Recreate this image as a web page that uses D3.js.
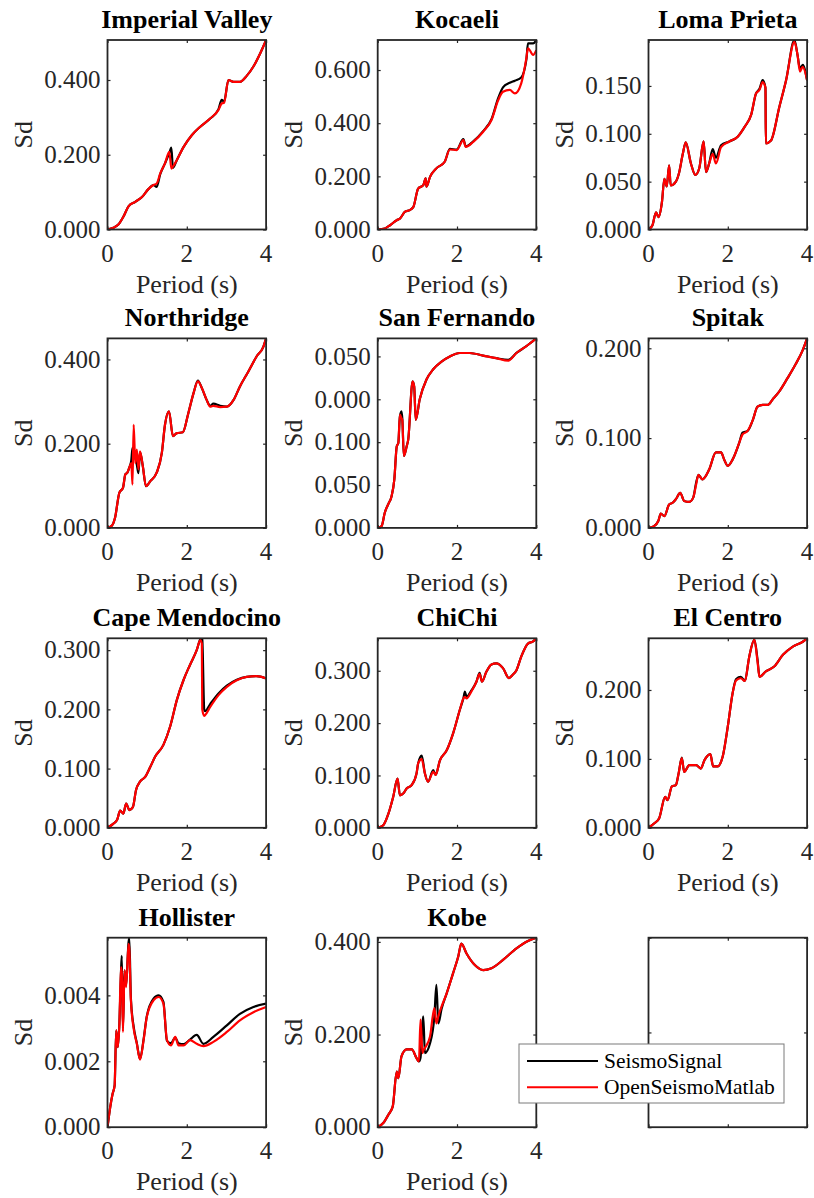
<!DOCTYPE html>
<html lang="en">
<head>
<meta charset="utf-8">
<script src="https://d3js.org/d3.v7.min.js"></script>
<style>
body { margin: 0; background: #fff; }
svg text { font-family: "Liberation Serif", "Times New Roman", serif; fill: #262626; }
</style>
</head>
<body>
<div id="chart"></div>
<script>
// ---- data (period in s, Sd) ----
var names = ["Imperial Valley", "Kocaeli", "Loma Prieta", "Northridge", "San Fernando", "Spitak",
             "Cape Mendocino", "ChiChi", "El Centro", "Hollister", "Kobe"];
var seriesNames = ["SeismoSignal", "OpenSeismoMatlab"];
var xTicks = [0, 2, 4];

var periodImperial = [0, 0.15, 0.28, 0.40, 0.53, 0.70, 0.87, 1.03, 1.16, 1.24, 1.33, 1.45, 1.56, 1.61, 1.65, 1.75, 1.92, 2.13, 2.34, 2.59, 2.80, 2.88, 2.94, 3.05, 3.18, 3.34, 3.51, 3.68, 3.85, 4.0];
var ssImperial  = [0, 0.0045, 0.014, 0.034, 0.062, 0.074, 0.087, 0.108, 0.119, 0.114, 0.148, 0.177, 0.205, 0.219, 0.165, 0.186, 0.221, 0.253, 0.275, 0.297, 0.322, 0.347, 0.342, 0.400, 0.395, 0.395, 0.411, 0.436, 0.471, 0.507];
var osmImperial = [0, 0.0045, 0.014, 0.034, 0.062, 0.074, 0.087, 0.108, 0.119, 0.123, 0.150, 0.177, 0.208, 0.163, 0.168, 0.186, 0.221, 0.253, 0.275, 0.297, 0.320, 0.337, 0.339, 0.400, 0.395, 0.395, 0.411, 0.436, 0.471, 0.507];
var ticksImperial = [0, 0.2, 0.4];

var periodKocaeli = [0, 0.18, 0.31, 0.48, 0.56, 0.69, 0.81, 0.90, 1.02, 1.15, 1.21, 1.23, 1.32, 1.48, 1.69, 1.82, 1.99, 2.16, 2.22, 2.41, 2.66, 2.87, 3.04, 3.16, 3.33, 3.46, 3.62, 3.75, 3.79, 3.92, 4.0];
var ssKocaeli  = [0, 0.004, 0.016, 0.035, 0.041, 0.067, 0.073, 0.085, 0.154, 0.167, 0.192, 0.161, 0.198, 0.230, 0.255, 0.303, 0.301, 0.340, 0.313, 0.332, 0.370, 0.415, 0.495, 0.535, 0.552, 0.560, 0.572, 0.640, 0.700, 0.700, 0.713];
var osmKocaeli = [0, 0.004, 0.016, 0.035, 0.041, 0.067, 0.073, 0.085, 0.154, 0.167, 0.192, 0.161, 0.198, 0.230, 0.255, 0.301, 0.299, 0.336, 0.311, 0.330, 0.368, 0.412, 0.487, 0.518, 0.525, 0.512, 0.550, 0.645, 0.682, 0.657, 0.675];
var ticksKocaeli = [0, 0.2, 0.4, 0.6];

var periodLoma = [0, 0.10, 0.19, 0.25, 0.34, 0.40, 0.46, 0.52, 0.56, 0.69, 0.77, 0.86, 0.94, 1.07, 1.18, 1.28, 1.39, 1.45, 1.53, 1.62, 1.70, 1.83, 2.04, 2.25, 2.42, 2.59, 2.71, 2.80, 2.88, 2.95, 2.96, 3.09, 3.30, 3.47, 3.68, 3.76, 3.82, 3.89, 4.0];
var ssLoma  = [0, 0.0045, 0.018, 0.013, 0.029, 0.053, 0.045, 0.067, 0.046, 0.050, 0.059, 0.078, 0.091, 0.069, 0.057, 0.064, 0.092, 0.060, 0.069, 0.084, 0.075, 0.088, 0.092, 0.097, 0.107, 0.120, 0.142, 0.147, 0.156, 0.148, 0.090, 0.093, 0.128, 0.156, 0.198, 0.182, 0.168, 0.172, 0.156];
var osmLoma = [0, 0.0045, 0.018, 0.013, 0.029, 0.053, 0.045, 0.067, 0.046, 0.050, 0.059, 0.078, 0.091, 0.069, 0.057, 0.064, 0.092, 0.060, 0.069, 0.079, 0.069, 0.086, 0.092, 0.097, 0.107, 0.120, 0.142, 0.146, 0.154, 0.148, 0.090, 0.093, 0.128, 0.156, 0.196, 0.182, 0.165, 0.170, 0.156];
var ticksLoma = [0, 0.05, 0.1, 0.15];

var periodNorthridge = [0, 0.11, 0.19, 0.30, 0.39, 0.45, 0.50, 0.55, 0.60, 0.63, 0.66, 0.70, 0.74, 0.78, 0.82, 0.89, 0.97, 1.08, 1.24, 1.37, 1.45, 1.55, 1.65, 1.75, 1.90, 2.04, 2.17, 2.28, 2.38, 2.50, 2.59, 2.67, 2.84, 3.01, 3.18, 3.34, 3.55, 3.76, 3.93, 4.0];
var ssNorthridge  = [0, 0.005, 0.024, 0.084, 0.095, 0.127, 0.131, 0.143, 0.160, 0.190, 0.175, 0.170, 0.150, 0.130, 0.180, 0.147, 0.099, 0.111, 0.131, 0.178, 0.245, 0.277, 0.218, 0.225, 0.227, 0.273, 0.320, 0.350, 0.332, 0.304, 0.290, 0.295, 0.290, 0.288, 0.304, 0.336, 0.371, 0.407, 0.430, 0.450];
var osmNorthridge = [0, 0.005, 0.024, 0.084, 0.095, 0.127, 0.131, 0.143, 0.154, 0.103, 0.245, 0.154, 0.186, 0.139, 0.182, 0.147, 0.099, 0.111, 0.131, 0.178, 0.245, 0.277, 0.218, 0.225, 0.227, 0.273, 0.320, 0.348, 0.332, 0.304, 0.288, 0.290, 0.287, 0.288, 0.304, 0.336, 0.371, 0.407, 0.430, 0.450];
var ticksNorthridge = [0, 0.2, 0.4];

var periodSanFernando = [0, 0.10, 0.18, 0.27, 0.35, 0.42, 0.48, 0.52, 0.56, 0.60, 0.62, 0.66, 0.73, 0.77, 0.88, 0.92, 0.96, 1.06, 1.23, 1.40, 1.61, 1.82, 2.07, 2.32, 2.66, 2.99, 3.29, 3.50, 3.75, 4.0];
var ssSanFernando  = [0, 0.0023, 0.018, 0.028, 0.037, 0.057, 0.095, 0.099, 0.130, 0.136, 0.128, 0.084, 0.095, 0.103, 0.171, 0.165, 0.126, 0.150, 0.173, 0.185, 0.194, 0.200, 0.204, 0.204, 0.201, 0.198, 0.196, 0.204, 0.212, 0.221];
var osmSanFernando = [0, 0.0023, 0.018, 0.028, 0.037, 0.057, 0.095, 0.099, 0.132, 0.128, 0.126, 0.084, 0.095, 0.103, 0.171, 0.165, 0.126, 0.150, 0.173, 0.185, 0.194, 0.200, 0.204, 0.204, 0.201, 0.198, 0.195, 0.204, 0.212, 0.221];
var ticksSanFernando = [0, 0.05, 0.1, 0.15, 0.2];
var labelsSanFernando = ["0.000", "0.050", "0.100", "0.000", "0.050"];

var periodSpitak = [0, 0.14, 0.25, 0.31, 0.40, 0.52, 0.61, 0.69, 0.80, 0.90, 1.03, 1.13, 1.20, 1.26, 1.36, 1.53, 1.70, 1.83, 1.91, 2.00, 2.12, 2.29, 2.37, 2.50, 2.63, 2.75, 2.88, 3.01, 3.13, 3.30, 3.51, 3.72, 3.89, 4.0];
var ssSpitak  = [0, 0.002, 0.008, 0.016, 0.013, 0.026, 0.028, 0.032, 0.039, 0.030, 0.029, 0.034, 0.050, 0.059, 0.054, 0.065, 0.084, 0.084, 0.076, 0.069, 0.076, 0.095, 0.106, 0.108, 0.120, 0.135, 0.137, 0.137, 0.143, 0.152, 0.167, 0.183, 0.198, 0.211];
var osmSpitak = [0, 0.002, 0.008, 0.016, 0.013, 0.026, 0.028, 0.032, 0.039, 0.030, 0.029, 0.034, 0.048, 0.059, 0.054, 0.065, 0.084, 0.084, 0.076, 0.069, 0.076, 0.095, 0.104, 0.108, 0.120, 0.135, 0.137, 0.137, 0.143, 0.152, 0.167, 0.183, 0.198, 0.211];
var ticksSpitak = [0, 0.1, 0.2];

var periodCape = [0, 0.15, 0.24, 0.32, 0.40, 0.47, 0.55, 0.64, 0.72, 0.82, 0.95, 1.08, 1.20, 1.41, 1.58, 1.75, 1.92, 2.08, 2.25, 2.34, 2.38, 2.39, 2.44, 2.46, 2.59, 2.80, 3.01, 3.26, 3.51, 3.76, 4.0];
var ssCape  = [0, 0.007, 0.013, 0.029, 0.024, 0.041, 0.030, 0.035, 0.064, 0.078, 0.086, 0.103, 0.120, 0.140, 0.171, 0.216, 0.250, 0.275, 0.300, 0.318, 0.320, 0.318, 0.199, 0.197, 0.209, 0.227, 0.240, 0.250, 0.255, 0.256, 0.252];
var osmCape = [0, 0.007, 0.013, 0.029, 0.024, 0.041, 0.030, 0.035, 0.064, 0.078, 0.086, 0.103, 0.120, 0.140, 0.171, 0.216, 0.250, 0.275, 0.300, 0.317, 0.311, 0.200, 0.189, 0.190, 0.204, 0.224, 0.238, 0.249, 0.255, 0.256, 0.252];
var ticksCape = [0, 0.1, 0.2, 0.3];

var periodChiChi = [0, 0.14, 0.27, 0.39, 0.50, 0.56, 0.65, 0.73, 0.86, 0.98, 1.02, 1.11, 1.19, 1.27, 1.40, 1.46, 1.57, 1.74, 1.90, 2.07, 2.16, 2.20, 2.24, 2.36, 2.49, 2.57, 2.63, 2.74, 2.87, 2.99, 3.16, 3.31, 3.40, 3.50, 3.62, 3.79, 3.92, 4.0];
var ssChiChi  = [0, 0.005, 0.027, 0.059, 0.094, 0.062, 0.066, 0.075, 0.082, 0.104, 0.123, 0.138, 0.104, 0.088, 0.110, 0.101, 0.129, 0.148, 0.180, 0.225, 0.247, 0.260, 0.250, 0.262, 0.279, 0.296, 0.279, 0.298, 0.312, 0.314, 0.305, 0.286, 0.292, 0.301, 0.327, 0.352, 0.356, 0.362];
var osmChiChi = [0, 0.005, 0.027, 0.059, 0.094, 0.062, 0.066, 0.075, 0.082, 0.104, 0.123, 0.131, 0.104, 0.088, 0.107, 0.101, 0.129, 0.148, 0.180, 0.225, 0.247, 0.250, 0.247, 0.260, 0.279, 0.294, 0.279, 0.298, 0.312, 0.314, 0.305, 0.286, 0.292, 0.301, 0.327, 0.352, 0.356, 0.362];
var ticksChiChi = [0, 0.1, 0.2, 0.3];

var periodElCentro = [0, 0.14, 0.27, 0.42, 0.48, 0.59, 0.69, 0.76, 0.84, 0.90, 1.03, 1.20, 1.32, 1.41, 1.56, 1.63, 1.74, 1.87, 2.00, 2.12, 2.21, 2.33, 2.43, 2.54, 2.67, 2.75, 2.80, 2.96, 3.17, 3.39, 3.64, 3.89, 4.0];
var ssElCentro  = [0, 0.0063, 0.014, 0.045, 0.040, 0.060, 0.062, 0.079, 0.102, 0.081, 0.091, 0.091, 0.086, 0.098, 0.107, 0.089, 0.089, 0.103, 0.147, 0.195, 0.216, 0.219, 0.213, 0.248, 0.273, 0.244, 0.219, 0.227, 0.234, 0.251, 0.263, 0.270, 0.275];
var osmElCentro = [0, 0.0063, 0.014, 0.045, 0.040, 0.060, 0.062, 0.079, 0.101, 0.081, 0.091, 0.091, 0.086, 0.098, 0.107, 0.089, 0.089, 0.103, 0.147, 0.195, 0.214, 0.217, 0.213, 0.248, 0.273, 0.241, 0.219, 0.227, 0.234, 0.251, 0.263, 0.270, 0.275];
var ticksElCentro = [0, 0.1, 0.2];

var periodHollister = [0, 0.07, 0.13, 0.18, 0.22, 0.26, 0.30, 0.34, 0.36, 0.39, 0.43, 0.47, 0.53, 0.55, 0.59, 0.66, 0.74, 0.82, 0.91, 0.99, 1.16, 1.29, 1.41, 1.50, 1.60, 1.71, 1.79, 1.92, 2.08, 2.25, 2.42, 2.67, 3.01, 3.34, 3.68, 4.0];
var ssHollister  = [0, 0.00062, 0.00102, 0.00127, 0.00294, 0.00243, 0.00314, 0.00470, 0.00520, 0.00300, 0.00476, 0.00430, 0.00560, 0.00575, 0.00390, 0.00305, 0.00255, 0.00207, 0.00266, 0.00336, 0.00390, 0.00400, 0.00380, 0.00262, 0.00255, 0.00272, 0.00255, 0.00252, 0.00266, 0.00280, 0.00253, 0.00274, 0.00309, 0.00344, 0.00365, 0.00375];
var osmHollister = [0, 0.00062, 0.00102, 0.00127, 0.00294, 0.00243, 0.00314, 0.00486, 0.00470, 0.00289, 0.00476, 0.00425, 0.00556, 0.00540, 0.00385, 0.00299, 0.00253, 0.00205, 0.00264, 0.00334, 0.00385, 0.00395, 0.00375, 0.00264, 0.00248, 0.00274, 0.00248, 0.00248, 0.00264, 0.00253, 0.00246, 0.00259, 0.00289, 0.00324, 0.00349, 0.00365];
var ticksHollister = [0, 0.002, 0.004];

var periodKobe = [0, 0.14, 0.27, 0.38, 0.48, 0.52, 0.60, 0.73, 0.86, 0.98, 1.04, 1.08, 1.13, 1.15, 1.19, 1.32, 1.43, 1.48, 1.53, 1.61, 1.74, 1.90, 2.03, 2.11, 2.24, 2.45, 2.66, 2.87, 3.16, 3.50, 3.79, 4.0];
var ssKobe  = [0, 0.009, 0.027, 0.045, 0.120, 0.106, 0.153, 0.168, 0.168, 0.149, 0.142, 0.150, 0.225, 0.239, 0.160, 0.181, 0.240, 0.307, 0.224, 0.255, 0.289, 0.332, 0.368, 0.396, 0.375, 0.350, 0.339, 0.343, 0.361, 0.386, 0.402, 0.409];
var osmKobe = [0, 0.009, 0.027, 0.045, 0.120, 0.106, 0.153, 0.168, 0.168, 0.149, 0.142, 0.232, 0.160, 0.165, 0.171, 0.196, 0.257, 0.224, 0.240, 0.260, 0.289, 0.332, 0.368, 0.396, 0.375, 0.350, 0.339, 0.343, 0.361, 0.386, 0.402, 0.409];
var ticksKobe = [0, 0.2, 0.4];

// ---- layout ----
var width = 814, height = 1198;
var colX = [107.5, 377.7, 648.5];
var rowY = [40, 338.4, 638.3, 937.7];
var plotW = 158.6, plotH = 189.5;
var tickLen = 3;
var axisColor = "#262626";

var svg = d3.select("#chart")
            .append("svg")
            .attr("width", width)
            .attr("height", height);

var plots = [
    { t: periodImperial, ss: ssImperial, osm: osmImperial, ticks: ticksImperial },
    { t: periodKocaeli, ss: ssKocaeli, osm: osmKocaeli, ticks: ticksKocaeli },
    { t: periodLoma, ss: ssLoma, osm: osmLoma, ticks: ticksLoma },
    { t: periodNorthridge, ss: ssNorthridge, osm: osmNorthridge, ticks: ticksNorthridge },
    { t: periodSanFernando, ss: ssSanFernando, osm: osmSanFernando, ticks: ticksSanFernando, labels: labelsSanFernando },
    { t: periodSpitak, ss: ssSpitak, osm: osmSpitak, ticks: ticksSpitak },
    { t: periodCape, ss: ssCape, osm: osmCape, ticks: ticksCape },
    { t: periodChiChi, ss: ssChiChi, osm: osmChiChi, ticks: ticksChiChi },
    { t: periodElCentro, ss: ssElCentro, osm: osmElCentro, ticks: ticksElCentro },
    { t: periodHollister, ss: ssHollister, osm: osmHollister, ticks: ticksHollister },
    { t: periodKobe, ss: ssKobe, osm: osmKobe, ticks: ticksKobe }
];

// draws box + inward ticks on all four sides
function drawFrame(g, xScale, yScale, xt, yt) {
    g.append("g").attr("transform", "translate(0," + plotH + ")")
        .call(d3.axisBottom(xScale).tickValues(xt).tickSize(-tickLen).tickSizeOuter(0).tickFormat(""));
    g.append("g")
        .call(d3.axisTop(xScale).tickValues(xt).tickSize(-tickLen).tickSizeOuter(0).tickFormat(""));
    g.append("g")
        .call(d3.axisLeft(yScale).tickValues(yt).tickSize(-tickLen).tickSizeOuter(0).tickFormat(""));
    g.append("g").attr("transform", "translate(" + plotW + ",0)")
        .call(d3.axisRight(yScale).tickValues(yt).tickSize(-tickLen).tickSizeOuter(0).tickFormat(""));
    g.selectAll(".domain").remove();
    g.selectAll(".tick line").attr("stroke", axisColor).attr("stroke-width", 1.2);
    g.append("rect")
        .attr("width", plotW).attr("height", plotH)
        .attr("fill", "none")
        .attr("stroke", axisColor)
        .attr("stroke-width", 1.8);
}

plots.forEach(function(p, i) {
    var x0 = colX[i % 3], y0 = rowY[Math.floor(i / 3)];
    var g = svg.append("g").attr("transform", "translate(" + x0 + "," + y0 + ")");

    var xScale = d3.scaleLinear().domain([0, 4]).range([0, plotW]);
    var yMax = d3.max(p.ss.concat(p.osm));
    var yScale = d3.scaleLinear().domain([0, yMax]).range([plotH, 0]);

    g.append("clipPath").attr("id", "clip" + i)
        .append("rect").attr("width", plotW).attr("height", plotH);

    var line = d3.line()
        .curve(d3.curveMonotoneX)
        .x(function(d) { return xScale(d[0]); })
        .y(function(d) { return yScale(d[1]); });

    var lines = g.append("g").attr("clip-path", "url(#clip" + i + ")");
    lines.append("path")
        .datum(d3.zip(p.t, p.ss))
        .attr("d", line)
        .attr("fill", "none")
        .attr("stroke", "#000000")
        .attr("stroke-width", 2.2)
        .attr("stroke-linejoin", "round");
    lines.append("path")
        .datum(d3.zip(p.t, p.osm))
        .attr("d", line)
        .attr("fill", "none")
        .attr("stroke", "#ff0000")
        .attr("stroke-width", 2.2)
        .attr("stroke-linejoin", "round");

    drawFrame(g, xScale, yScale, xTicks, p.ticks);

    // tick labels
    g.selectAll(".xlab").data(xTicks).enter()
        .append("text").attr("class", "xlab")
        .attr("x", xScale).attr("y", plotH + 32)
        .attr("text-anchor", "middle")
        .style("font-size", "25px")
        .text(function(d) { return d; });

    var fmt = d3.format(".3f");
    g.selectAll(".ylab").data(p.ticks).enter()
        .append("text").attr("class", "ylab")
        .attr("x", -7).attr("y", yScale)
        .attr("dy", "0.33em")
        .attr("text-anchor", "end")
        .style("font-size", "25px")
        .text(function(d, k) { return p.labels ? p.labels[k] : fmt(d); });

    // axis titles
    g.append("text")
        .attr("x", plotW / 2).attr("y", plotH + 63)
        .attr("text-anchor", "middle")
        .style("font-size", "26px")
        .text("Period (s)");
    g.append("text")
        .attr("transform", "translate(-76," + (plotH / 2) + ") rotate(-90)")
        .attr("text-anchor", "middle")
        .style("font-size", "26px")
        .text("Sd");
    g.append("text")
        .attr("x", plotW / 2).attr("y", -12)
        .attr("text-anchor", "middle")
        .style("font-size", "26px")
        .style("font-weight", "bold")
        .style("fill", "#000")
        .text(names[i]);
});

// empty 12th axes
var gEmpty = svg.append("g").attr("transform", "translate(" + colX[2] + "," + rowY[3] + ")");
drawFrame(gEmpty,
    d3.scaleLinear().domain([0, 1]).range([0, plotW]),
    d3.scaleLinear().domain([0, 1]).range([plotH, 0]),
    [0, 0.5, 1], [0, 0.5, 1]);

// legend
var legend = svg.append("g").attr("transform", "translate(519,1044)");
legend.append("rect")
    .attr("width", 265).attr("height", 59)
    .attr("fill", "#fff")
    .attr("stroke", "#7a7a7a")
    .attr("stroke-width", 1);
var legendColors = ["#000000", "#ff0000"];
seriesNames.forEach(function(s, k) {
    var yy = 17 + k * 26.3;
    legend.append("line")
        .attr("x1", 8).attr("x2", 79)
        .attr("y1", yy).attr("y2", yy)
        .attr("stroke", legendColors[k])
        .attr("stroke-width", 2);
    legend.append("text")
        .attr("x", 85).attr("y", yy + 7)
        .style("font-size", "21.5px")
        .style("fill", "#000")
        .text(s);
});
</script>
</body>
</html>
